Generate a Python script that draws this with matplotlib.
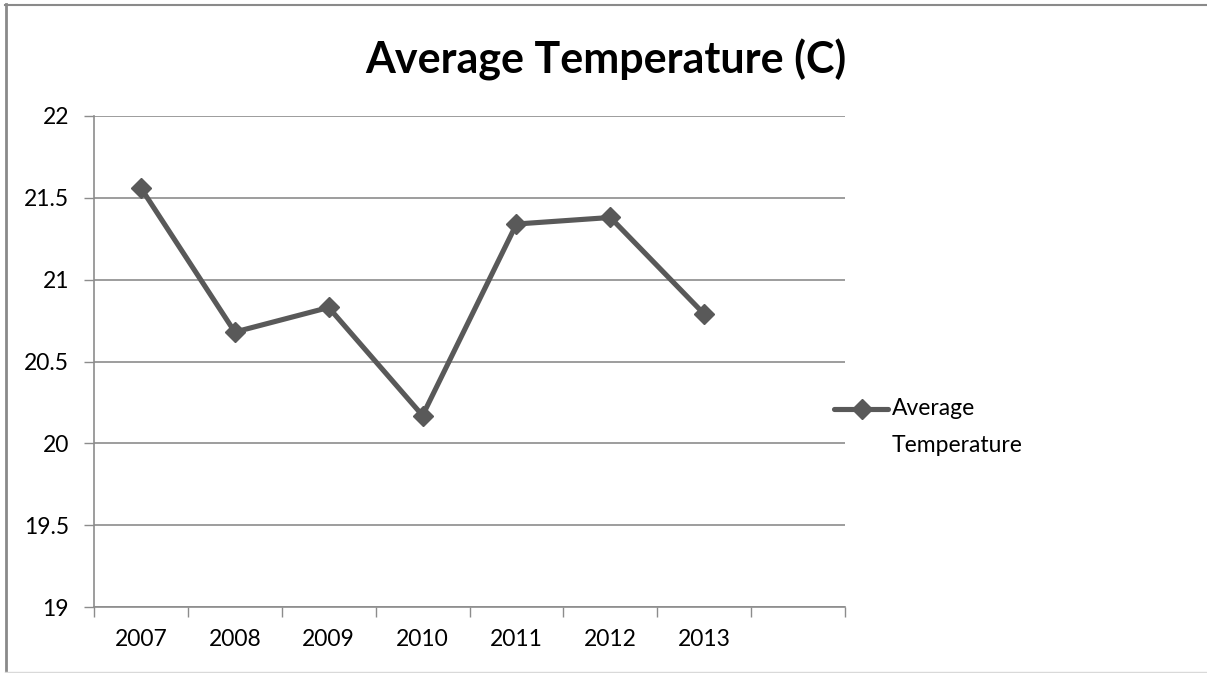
import matplotlib
matplotlib.use("Agg")
import matplotlib.pyplot as plt
from matplotlib.lines import Line2D

years = ["2007", "2008", "2009", "2010", "2011", "2012", "2013"]
avg_temp = [21.56, 20.68, 20.83, 20.17, 21.34, 21.38, 20.79]
y_ticks = [19, 19.5, 20, 20.5, 21, 21.5, 22]
y_labels = ["19", "19.5", "20", "20.5", "21", "21.5", "22"]
series_name = ["Average", "Temperature"]

plt.rcParams['font.family'] = ['Lato', 'DejaVu Sans']

W, H = 1207, 673
fig = plt.figure(figsize=(W / 100, H / 100), dpi=100)
ax = fig.add_axes([94 / W, 1 - 607 / H, (845 - 94) / W, (607 - 116) / H])

grid_col = "#8c8c8c"
line_col = "#595959"
fs = 16.5

x = list(range(len(years)))
ax.plot(x, avg_temp, color=line_col, lw=3.7, marker="D", markersize=10,
        markeredgecolor=line_col, markerfacecolor=line_col,
        solid_joinstyle="miter", zorder=3)

n_slots = len(years) + 1
ax.set_xlim(-0.5, n_slots - 0.5)
ax.set_ylim(19, 22)

# category boundaries as major ticks, labels on minor ticks at centres
ax.set_xticks([i - 0.5 for i in range(n_slots + 1)])
ax.set_xticklabels([])
ax.set_xticks(x, minor=True)
ax.set_xticklabels(years, minor=True)
ax.tick_params(axis="x", which="major", length=7, width=1, color=grid_col)
ax.tick_params(axis="x", which="minor", length=0, pad=16, labelsize=fs)

ax.set_yticks(y_ticks)
ax.set_yticklabels(y_labels)
ax.tick_params(axis="y", length=7, width=1, color=grid_col, pad=11, labelsize=fs)

ax.yaxis.grid(True, color=grid_col, lw=1.2)
ax.set_axisbelow(True)
for s in ["top", "right"]:
    ax.spines[s].set_visible(False)
for s in ["left", "bottom"]:
    ax.spines[s].set_color(grid_col)
    ax.spines[s].set_linewidth(1.2)

fig.text(606 / W, 1 - 60 / H, "Average Temperature (C)", ha="center", va="center",
         fontsize=31, fontweight="bold")

# legend to the right of the plot area
fig.add_artist(Line2D([834 / W, 888 / W], [1 - 409 / H, 1 - 409 / H], transform=fig.transFigure,
                      color=line_col, lw=3.7, solid_capstyle="round"))
fig.add_artist(Line2D([862 / W], [1 - 409 / H], transform=fig.transFigure, ls="none",
                      marker="D", markersize=10, color=line_col))
fig.text(892 / W, 1 - 409 / H, series_name[0], ha="left", va="center", fontsize=fs)
fig.text(892 / W, 1 - 446 / H, series_name[1], ha="left", va="center", fontsize=fs)

# outer chart border
fig.add_artist(Line2D([5.5 / W, 5.5 / W], [0, 1 - 4 / H], transform=fig.transFigure,
                      color="#8a8a8a", lw=2))
fig.add_artist(Line2D([5 / W, 1], [1 - 4.5 / H, 1 - 4.5 / H], transform=fig.transFigure,
                      color="#8a8a8a", lw=1.5))
fig.add_artist(Line2D([5 / W, 1], [0.6 / H, 0.6 / H], transform=fig.transFigure,
                      color="#d9d9d9", lw=1))

fig.savefig("out.png", dpi=100)
